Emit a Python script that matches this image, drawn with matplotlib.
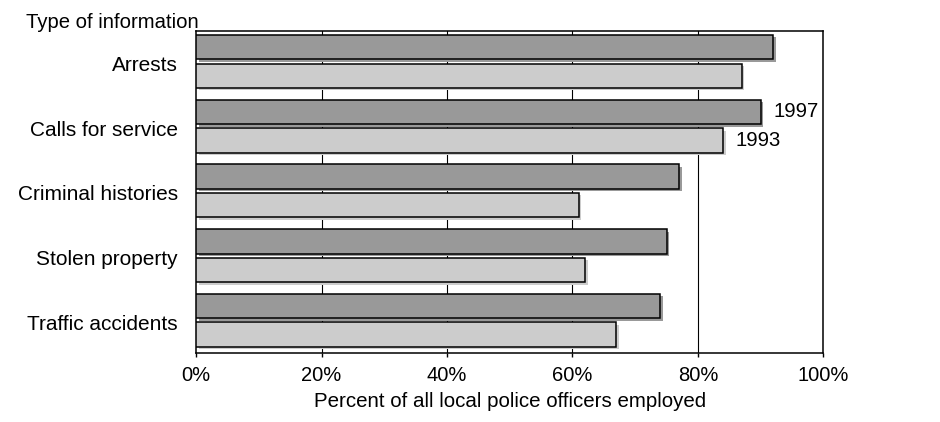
import matplotlib
matplotlib.use("Agg")
import matplotlib.pyplot as plt
import matplotlib.transforms as mtransforms
import numpy as np

categories = ["Arrests", "Calls for service", "Criminal histories",
              "Stolen property", "Traffic accidents"]
values_1997 = [92, 90, 77, 75, 74]
values_1993 = [87, 84, 61, 62, 67]
series_labels = ["1997", "1993"]
xticks = [0, 20, 40, 60, 80, 100]
xtick_labels = ["0%", "20%", "40%", "60%", "80%", "100%"]

plt.rcParams['font.family'] = ['Liberation Sans', 'DejaVu Sans']

fig = plt.figure(figsize=(9.4, 4.22), dpi=100)
ax = fig.add_axes([196/940, 1-353.3/422, (823.5-196)/940, (353.3-30.7)/422])

y = np.arange(len(categories))
off = 0.221
h = 0.378
colors = ["#999999", "#cccccc"]

shadow = mtransforms.offset_copy(ax.transData, fig=fig, x=2.5, y=-2.5, units='dots')
for vals, dy, col in [(values_1997, -off, colors[0]), (values_1993, off, colors[1])]:
    ax.barh(y + dy, vals, height=h, color=col, edgecolor='none',
            transform=shadow, zorder=2)
    ax.barh(y + dy, vals, height=h, color=col, edgecolor='black',
            linewidth=1.1, zorder=3)

# series labels next to "Calls for service" bars
ax.text(values_1997[1] + 2, y[1] - off, series_labels[0], ha='left', va='center',
        fontsize=14.6, zorder=4)
ax.text(values_1993[1] + 2, y[1] + off, series_labels[1], ha='left', va='center',
        fontsize=14.6, zorder=4)

ax.set_xlim(0, 100)
ax.set_ylim(4.51, -0.475)
ax.set_xticks(xticks)
ax.set_xticklabels(xtick_labels, fontsize=14.5)
ax.set_yticks(y + 0.03)
ax.set_yticklabels(categories, fontsize=15)
ax.tick_params(axis='y', length=0, pad=13)
ax.tick_params(axis='x', length=3, width=1, direction='out', pad=6)
for x in xticks[1:-1]:
    ax.axvline(x, color='black', linewidth=0.8, zorder=1)
for s in ax.spines.values():
    s.set_linewidth(1.1)
ax.set_xlabel("Percent of all local police officers employed", fontsize=14.8, labelpad=5)
fig.text(26/940, 1-23/422, "Type of information", ha='left', va='center', fontsize=14.6)

fig.savefig("out.png", dpi=100)
